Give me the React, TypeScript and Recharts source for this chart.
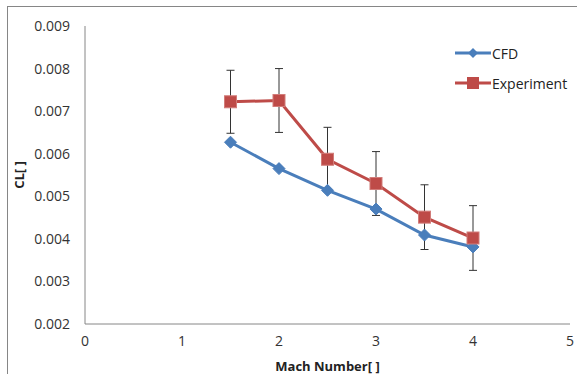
import { LineChart, Line, XAxis, YAxis, ErrorBar, Legend } from 'recharts'

const machNumbers = [1.5, 2, 2.5, 3, 3.5, 4]
const cfdValues = [0.00627, 0.00565, 0.00514, 0.0047, 0.00409, 0.00381]
const experimentValues = [0.00722, 0.00725, 0.00587, 0.0053, 0.00451, 0.00402]
const experimentErrors = [0.00074, 0.00075, 0.00075, 0.00075, 0.00076, 0.00076]
const xTicks = [0, 1, 2, 3, 4, 5]
const yTicks = [0.002, 0.003, 0.004, 0.005, 0.006, 0.007, 0.008, 0.009]

const data = machNumbers.map((mach, i) => ({
  mach,
  cfd: cfdValues[i],
  experiment: experimentValues[i],
  err: experimentErrors[i],
}))

const FONT = '"Open Sans", Calibri, sans-serif'
const CFD_COLOR = '#4A7EBB'
const EXP_COLOR = '#BE4B48'
const AXIS_COLOR = '#868686'

function Diamond(props: any) {
  const { cx, cy } = props
  if (cx == null || cy == null) return null
  const r = 6
  return (
    <path
      d={`M${cx},${cy - r}L${cx + r},${cy}L${cx},${cy + r}L${cx - r},${cy}Z`}
      fill={CFD_COLOR}
      stroke={CFD_COLOR}
      strokeWidth={1}
    />
  )
}

function Square(props: any) {
  const { cx, cy } = props
  if (cx == null || cy == null) return null
  const s = 6
  return (
    <rect x={cx - s} y={cy - s} width={s * 2} height={s * 2} fill={EXP_COLOR} stroke="#D27C79" strokeWidth={1} />
  )
}

function YTitle(props: any) {
  const { viewBox } = props
  const cy = viewBox ? viewBox.y + viewBox.height / 2 : 175
  return (
    <text
      x={19}
      y={cy}
      transform={`rotate(-90 19 ${cy})`}
      textAnchor="middle"
      dominantBaseline="central"
      fontFamily={FONT}
      fontWeight="bold"
      fontSize={13}
      fill="#222"
    >
      CL[ ]
    </text>
  )
}

function LegendBox() {
  const items = [
    { name: 'CFD', color: CFD_COLOR, shape: 'diamond' },
    { name: 'Experiment', color: EXP_COLOR, shape: 'square' },
  ]
  return (
    <div style={{ fontFamily: FONT, fontSize: 14, color: '#222' }}>
      {items.map((it) => (
        <div key={it.name} style={{ display: 'flex', alignItems: 'center', height: 30 }}>
          <svg width={36} height={14}>
            <line x1={0} y1={7} x2={36} y2={7} stroke={it.color} strokeWidth={3} />
            {it.shape === 'diamond' ? (
              <path d="M18,2L23,7L18,12L13,7Z" fill={it.color} />
            ) : (
              <rect x={12} y={1} width={12} height={12} fill={it.color} />
            )}
          </svg>
          <span style={{ marginLeft: 1 }}>{it.name}</span>
        </div>
      ))}
    </div>
  )
}

export default function App() {
  return (
    <div
      style={{
        position: 'absolute',
        left: 0,
        top: 0,
        width: 577,
        height: 374,
        background: '#fff',
        overflow: 'hidden',
      }}
    >
      <div
        style={{
          position: 'absolute',
          left: 7,
          top: 6,
          width: 600,
          height: 400,
          border: `1px solid ${AXIS_COLOR}`,
        }}
      />
      <div style={{ position: 'absolute', left: 0, top: 0 }}>
        <LineChart width={577} height={374} data={data} margin={{ top: 26, right: 7, left: 0, bottom: 0 }}>
          <XAxis
            dataKey="mach"
            type="number"
            domain={[0, 5]}
            ticks={xTicks}
            axisLine={{ stroke: AXIS_COLOR }}
            tickLine={false}
            tickSize={0}
            tickMargin={12}
            height={50}
            tick={{ fontSize: 14, fill: '#333', fontFamily: FONT }}
            label={{
              value: 'Mach Number[ ]',
              position: 'insideBottom',
              offset: 3,
              style: { fontFamily: FONT, fontWeight: 'bold', fontSize: 13, fill: '#222' },
            }}
          />
          <YAxis
            type="number"
            domain={[0.002, 0.009]}
            ticks={yTicks}
            width={85}
            axisLine={{ stroke: AXIS_COLOR }}
            tickLine={false}
            tickSize={0}
            tickMargin={15}
            tickFormatter={(v: number) => v.toFixed(3)}
            tick={{ fontSize: 14, fill: '#333', fontFamily: FONT }}
            label={<YTitle />}
          />
          <Legend
            layout="vertical"
            align="center"
            verticalAlign="middle"
            content={<LegendBox />}
            wrapperStyle={{ top: 38, left: 455, width: 122, height: 60 }}
          />
          <Line
            dataKey="cfd"
            name="CFD"
            stroke={CFD_COLOR}
            strokeWidth={3}
            dot={<Diamond />}
            isAnimationActive={false}
          />
          <Line
            dataKey="experiment"
            name="Experiment"
            stroke={EXP_COLOR}
            strokeWidth={3}
            dot={<Square />}
            isAnimationActive={false}
          >
            <ErrorBar dataKey="err" direction="y" width={4} stroke="#333" strokeWidth={1} isAnimationActive={false} />
          </Line>
        </LineChart>
      </div>
    </div>
  )
}
